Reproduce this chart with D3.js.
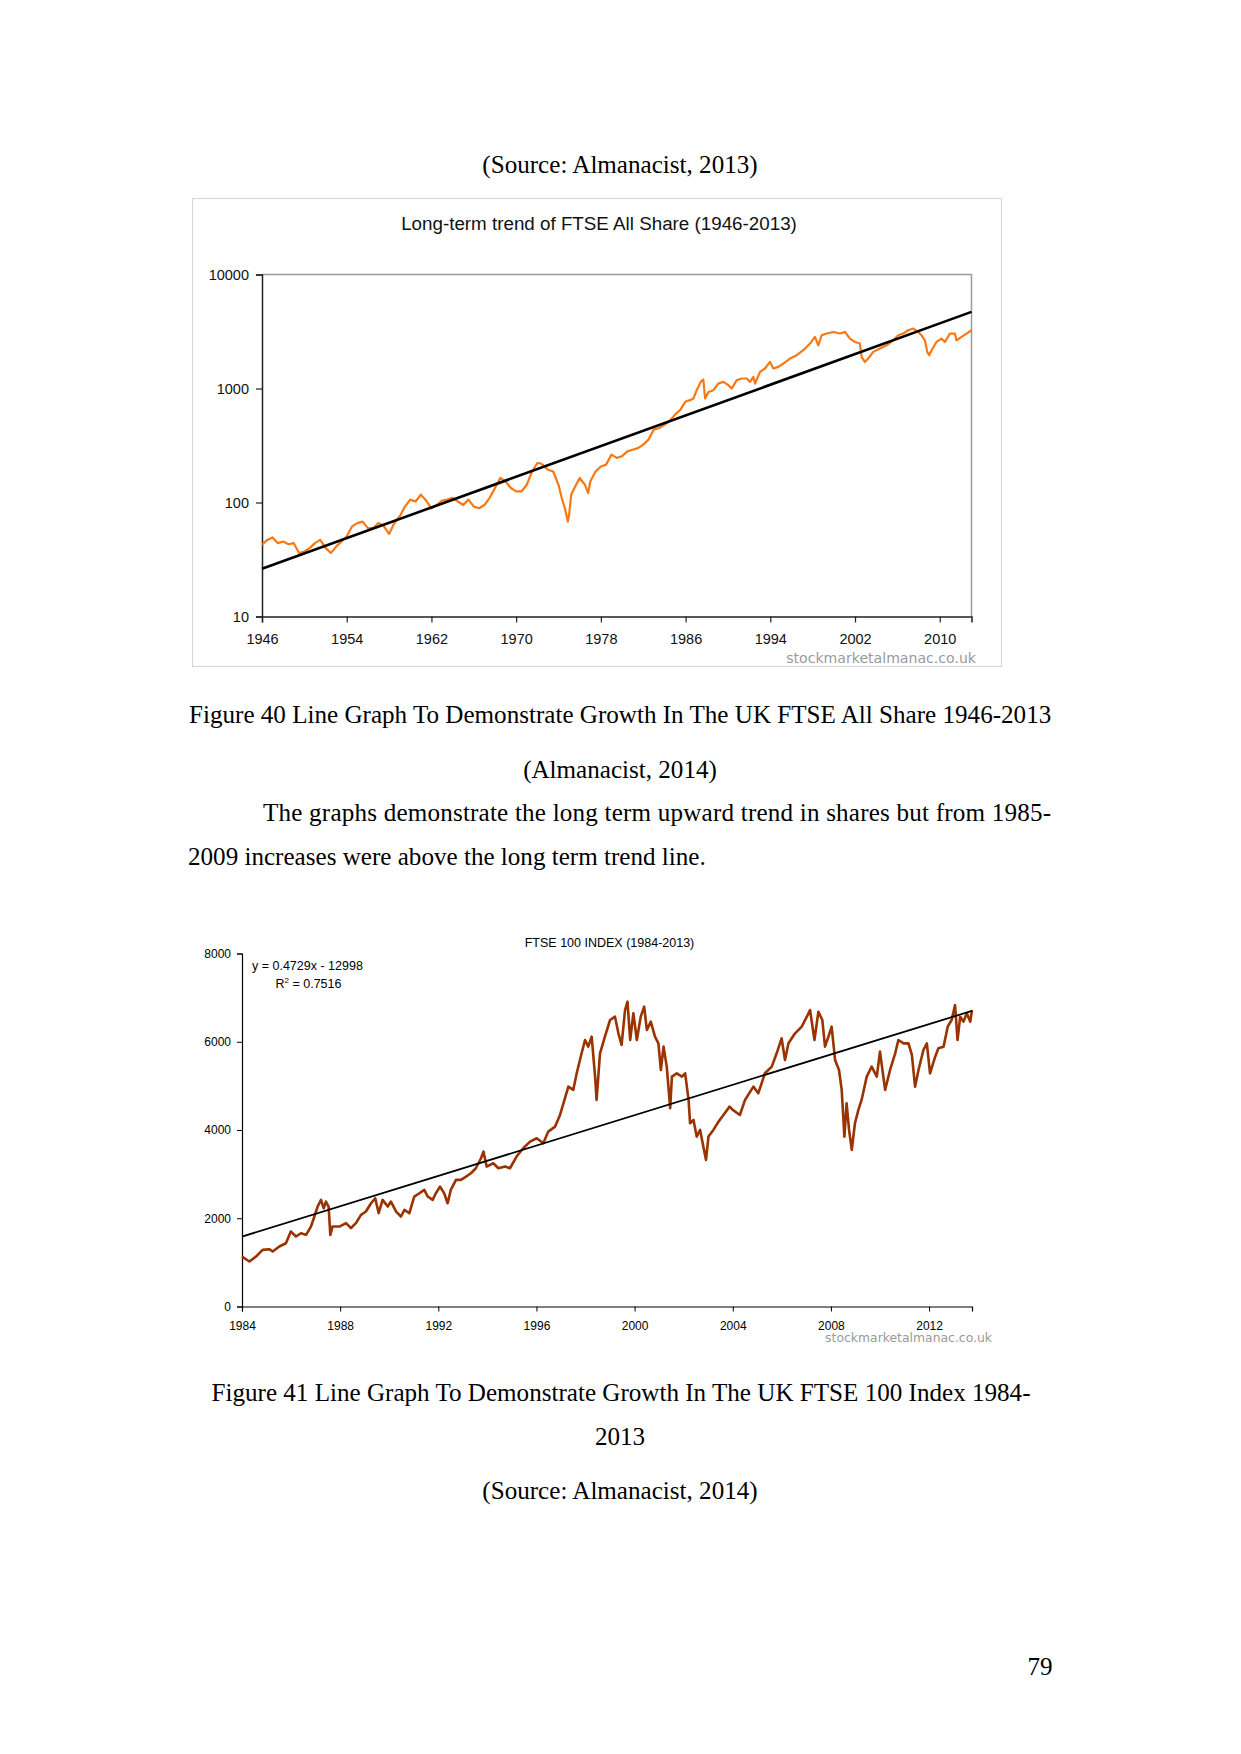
<!DOCTYPE html>
<html><head><meta charset="utf-8">
<script src="https://cdn.jsdelivr.net/npm/d3@7"></script>
<style>body{margin:0;background:#fff}</style>
</head><body>
<svg id="page" width="1241" height="1754"></svg>
<script>
// ---------- DATA ----------
// Chart 1: FTSE All Share, long-term (year, index level)
const allShareSeries = [
 [1946.0,42.6],[1946.5,47],[1947.0,49.4],[1947.5,44],[1948.0,45.5],[1948.5,43],[1949.0,44],[1949.5,36],
 [1950.0,37.2],[1950.5,39.8],[1951.0,44],[1951.5,47],[1952.0,40],[1952.5,36],[1953.0,41],[1953.5,45.5],
 [1954.0,50.4],[1954.5,61.7],[1955.0,66],[1955.5,68],[1956.0,59.6],[1956.5,59.6],[1957.0,66],[1957.5,62],
 [1958.0,53],[1958.5,66],[1959.0,75.5],[1959.5,92],[1960.0,106],[1960.5,102],[1961.0,117],[1961.5,104],
 [1962.0,89],[1962.5,95],[1963.0,104],[1963.5,106],[1964.0,110],[1964.5,102],[1965.0,95],[1965.5,106],
 [1966.0,92],[1966.5,89],[1967.0,95],[1967.5,110],[1968.0,134],[1968.5,164],[1969.0,153],[1969.5,134],
 [1970.0,125],[1970.5,125],[1971.0,143],[1971.5,187],[1972.0,222],[1972.3,220],[1972.5,215],[1973.0,194],
 [1973.5,187],[1974.0,143],[1974.3,110],[1974.6,89],[1974.88,68],[1975.0,78],[1975.2,117],[1975.5,134],
 [1976.0,164],[1976.5,143],[1976.8,121],[1977.0,153],[1977.5,187],[1978.0,207],[1978.5,215],[1979.0,263],
 [1979.5,246],[1980.0,255],[1980.5,281],[1981.0,290],[1981.5,300],[1982.0,322],[1982.5,356],[1983.0,436],
 [1983.5,450],[1984.0,480],[1984.5,518],[1985.0,590],[1985.5,650],[1986.0,770],[1986.42,790],[1986.74,817],
 [1987.05,966],[1987.43,1143],[1987.68,1200],[1987.84,817],[1988.16,933],[1988.63,966],[1989.1,1106],
 [1989.57,1143],[1990.04,1069],[1990.36,1000],[1990.83,1183],[1991.3,1224],[1991.77,1224],[1992.09,1143],
 [1992.4,1266],[1992.56,1106],[1993.03,1400],[1993.5,1497],[1993.97,1712],[1994.29,1497],[1994.76,1549],
 [1995.23,1656],[1995.86,1832],[1996.49,1959],[1997.12,2167],[1997.75,2479],[1998.22,2833],[1998.53,2392],
 [1998.85,2931],[1999.32,3034],[1999.95,3134],[2000.58,3034],[2001.05,3134],[2001.52,2740],[2001.99,2561],
 [2002.46,2479],[2002.62,1893],[2002.93,1712],[2003.25,1832],[2003.72,2095],[2004.35,2239],[2004.98,2392],
 [2005.61,2649],[2006.08,2931],[2006.55,3034],[2007.03,3244],[2007.5,3356],[2007.97,3134],[2008.28,2931],
 [2008.6,2649],[2008.82,2095],[2009.01,1959],[2009.23,2167],[2009.7,2561],[2010.17,2740],[2010.49,2561],
 [2010.96,3034],[2011.43,3034],[2011.59,2649],[2012.06,2833],[2012.53,3034],[2013.0,3244]
];
const allShareTrend = [[1946, 26.2], [2013, 4700]];
const allShareYTicks = [10, 100, 1000, 10000];
const allShareXTicks = [1946, 1954, 1962, 1970, 1978, 1986, 1994, 2002, 2010];

// Chart 2: FTSE 100 index (year, index level)
const ftse100Series = [
 [1984.0,1132],[1984.3,1019],[1984.57,1132],[1984.84,1284],[1985.11,1299],[1985.25,1246],[1985.52,1359],
 [1985.79,1434],[1985.99,1699],[1986.2,1586],[1986.4,1661],[1986.61,1624],[1986.81,1812],[1986.95,2039],
 [1987.08,2265],[1987.22,2416],[1987.33,2227],[1987.42,2378],[1987.53,2265],[1987.6,1624],[1987.69,1812],
 [1987.97,1812],[1988.24,1888],[1988.44,1775],[1988.64,1888],[1988.85,2076],[1989.05,2152],[1989.26,2340],
 [1989.43,2454],[1989.57,2114],[1989.73,2416],[1989.94,2265],[1990.07,2378],[1990.28,2152],[1990.48,2039],
 [1990.62,2190],[1990.82,2114],[1991.02,2492],[1991.23,2567],[1991.43,2643],[1991.57,2492],[1991.77,2416],
 [1991.9,2567],[1992.07,2718],[1992.24,2567],[1992.38,2340],[1992.51,2643],[1992.72,2869],[1992.92,2869],
 [1993.13,2945],[1993.33,3020],[1993.53,3133],[1993.74,3360],[1993.84,3511],[1993.97,3171],[1994.24,3247],
 [1994.45,3133],[1994.72,3171],[1994.92,3133],[1995.19,3398],[1995.46,3587],[1995.74,3738],[1996.01,3813],
 [1996.28,3700],[1996.48,3964],[1996.76,4077],[1996.96,4341],[1997.1,4606],[1997.3,4983],[1997.5,4908],
 [1997.64,5285],[1997.84,5738],[1997.98,6040],[1998.11,5889],[1998.25,6115],[1998.39,5210],[1998.45,4681],
 [1998.59,5738],[1998.79,6115],[1999.0,6493],[1999.2,6568],[1999.34,6191],[1999.47,5927],[1999.61,6719],
 [1999.71,6908],[1999.82,6040],[1999.95,6644],[2000.09,6040],[2000.25,6568],[2000.39,6795],[2000.5,6266],
 [2000.66,6455],[2000.83,6115],[2000.97,5964],[2001.07,5360],[2001.18,5889],[2001.31,5436],[2001.45,4493],
 [2001.52,5210],[2001.72,5285],[2001.93,5210],[2002.06,5285],[2002.2,4681],[2002.26,4153],[2002.4,4228],
 [2002.53,3851],[2002.67,4002],[2002.8,3625],[2002.91,3323],[2003.01,3851],[2003.21,4002],[2003.42,4190],
 [2003.62,4341],[2003.87,4530],[2004.0,4455],[2004.29,4341],[2004.5,4681],[2004.84,4983],[2005.04,4832],
 [2005.31,5285],[2005.59,5436],[2005.79,5738],[2005.99,6078],[2006.13,5587],[2006.27,5964],[2006.54,6191],
 [2006.81,6342],[2007.02,6568],[2007.15,6719],[2007.33,6040],[2007.49,6681],[2007.65,6493],[2007.76,5889],
 [2007.9,6115],[2008.03,6342],[2008.17,5587],[2008.33,5360],[2008.44,4908],[2008.55,3851],[2008.64,4606],
 [2008.74,4002],[2008.85,3549],[2008.98,4153],[2009.12,4455],[2009.25,4681],[2009.46,5210],[2009.66,5436],
 [2009.87,5210],[2010.0,5776],[2010.21,4908],[2010.41,5360],[2010.62,5738],[2010.75,6040],[2010.96,5964],
 [2011.16,5964],[2011.3,5700],[2011.43,4983],[2011.57,5360],[2011.77,5813],[2011.91,5964],[2012.04,5285],
 [2012.25,5662],[2012.38,5851],[2012.59,5889],[2012.76,6342],[2012.92,6493],[2013.06,6832],[2013.16,6040],
 [2013.27,6568],[2013.4,6455],[2013.54,6644],[2013.68,6455],[2013.75,6719]
];
const ftse100Trend = [[1984, 1585], [2013.75, 6700]];
const ftse100YTicks = [0, 2000, 4000, 6000, 8000];
const ftse100XTicks = [1984, 1988, 1992, 1996, 2000, 2004, 2008, 2012];

// ---------- PAGE ----------
const svg = d3.select("#page");
svg.append("rect").attr("width",1241).attr("height",1754).attr("fill","#fff");
const serif = "'Liberation Serif','Times New Roman',serif";
const sans = "'Liberation Sans',Arial,sans-serif";
const wm = "'DejaVu Sans',Verdana,sans-serif";

function docText(t, x, y, anchor, extra) {
  const el = svg.append("text").attr("x", x).attr("y", y)
    .attr("font-family", serif).attr("font-size", 25.1).attr("fill", "#000")
    .attr("text-anchor", anchor || "start").text(t);
  if (extra) extra(el);
  return el;
}

docText("(Source: Almanacist, 2013)", 620, 173, "middle");
docText("Figure 40 Line Graph To Demonstrate Growth In The UK FTSE All Share 1946-2013", 189, 723);
docText("(Almanacist, 2014)", 620, 778, "middle");
docText("The graphs demonstrate the long term upward trend in shares but from 1985-", 263, 821, "start",
  el => el.attr("textLength", 788).attr("lengthAdjust", "spacing"));
docText("2009 increases were above the long term trend line.", 188, 865);
docText("Figure 41 Line Graph To Demonstrate Growth In The UK FTSE 100 Index 1984-", 211.5, 1401);
docText("2013", 620, 1445, "middle");
docText("(Source: Almanacist, 2014)", 620, 1499, "middle");
docText("79", 1040, 1675, "middle");

// ---------- CHART 1 ----------
const c1 = svg.append("g");
c1.append("rect").attr("x",192.5).attr("y",198.5).attr("width",809).attr("height",468)
  .attr("fill","#fff").attr("stroke","#d4d4d4").attr("stroke-width",1);
c1.append("text").attr("x",599).attr("y",230).attr("text-anchor","middle")
  .attr("font-family",sans).attr("font-size",18.8).attr("fill","#111")
  .text("Long-term trend of FTSE All Share (1946-2013)");

const x1 = d3.scaleLinear().domain([1946, 2013]).range([262, 971.5]);
const y1 = d3.scaleLog().domain([10, 10000]).range([616.5, 274.5]);

// plot frame (grey top/right)
c1.append("path").attr("d", `M${x1.range()[0]},${y1.range()[1]}H${x1.range()[1]}V${y1.range()[0]}`)
  .attr("fill","none").attr("stroke","#9a9a9a").attr("stroke-width",1.5);

const ax1 = c1.append("g").attr("transform",`translate(${x1.range()[0]},0)`)
  .call(d3.axisLeft(y1).tickValues(allShareYTicks).tickFormat(d3.format("d")).tickSize(6).tickPadding(7));
const bx1 = c1.append("g").attr("transform",`translate(0,${y1.range()[0]})`)
  .call(d3.axisBottom(x1).tickValues(allShareXTicks).tickFormat(d3.format("d")).tickSize(6).tickPadding(11.5));
[ax1, bx1].forEach(a => {
  a.select(".domain").attr("stroke","#222").attr("stroke-width",1.5);
  a.selectAll(".tick line").attr("stroke","#222").attr("stroke-width",1.2);
  a.selectAll(".tick text").attr("font-family",sans).attr("font-size",14.5).attr("fill","#111");
});

const line1 = d3.line().x(d => x1(d[0])).y(d => y1(d[1]));
c1.append("path").datum(allShareSeries).attr("d", line1)
  .attr("fill","none").attr("stroke","#fa7814").attr("stroke-width",2.2).attr("stroke-linejoin","round");
c1.append("path").datum(allShareTrend).attr("d", line1)
  .attr("fill","none").attr("stroke","#000").attr("stroke-width",2.6);

c1.append("text").attr("x",976).attr("y",663).attr("text-anchor","end")
  .attr("font-family",wm).attr("font-size",14.1).attr("fill","#9a9a9a")
  .text("stockmarketalmanac.co.uk");

// ---------- CHART 2 ----------
const c2 = svg.append("g");
c2.append("text").attr("x",609.5).attr("y",947).attr("text-anchor","middle")
  .attr("font-family",sans).attr("font-size",12.5).attr("fill","#000")
  .text("FTSE 100 INDEX (1984-2013)");

const x2 = d3.scaleLinear().domain([1984, 2013.75]).range([242, 972]);
const y2 = d3.scaleLinear().domain([0, 8000]).range([1306.5, 953.5]);

const ax2 = c2.append("g").attr("transform",`translate(${x2.range()[0]},0)`)
  .call(d3.axisLeft(y2).tickValues(ftse100YTicks).tickFormat(d3.format("d")).tickSize(5).tickPadding(6));
const bx2 = c2.append("g").attr("transform",`translate(0,${y2.range()[0]})`)
  .call(d3.axisBottom(x2).tickValues(ftse100XTicks).tickFormat(d3.format("d")).tickSize(5).tickPadding(9.5));
[ax2, bx2].forEach(a => {
  a.select(".domain").attr("stroke","#000").attr("stroke-width",1.2);
  a.selectAll(".tick line").attr("stroke","#000");
  a.selectAll(".tick text").attr("font-family",sans).attr("font-size",12).attr("fill","#000");
});

const line2 = d3.line().x(d => x2(d[0])).y(d => y2(d[1]));
c2.append("path").datum(ftse100Series).attr("d", line2)
  .attr("fill","none").attr("stroke","#993300").attr("stroke-width",2.6).attr("stroke-linejoin","round");
c2.append("path").datum(ftse100Trend).attr("d", line2)
  .attr("fill","none").attr("stroke","#000").attr("stroke-width",1.8);

const eq = c2.append("text").attr("x",252).attr("y",969.5)
  .attr("font-family",sans).attr("font-size",12.5).attr("fill","#000").text("y = 0.4729x - 12998");
const r2 = c2.append("text").attr("x",275.5).attr("y",988)
  .attr("font-family",sans).attr("font-size",12.5).attr("fill","#000");
r2.append("tspan").text("R");
r2.append("tspan").attr("dy",-5).attr("font-size",8).text("2");
r2.append("tspan").attr("dy",5).text(" = 0.7516");

c2.append("text").attr("x",992).attr("y",1342).attr("text-anchor","end")
  .attr("font-family",wm).attr("font-size",12.4).attr("fill","#9a9a9a")
  .text("stockmarketalmanac.co.uk");
</script>
</body></html>
